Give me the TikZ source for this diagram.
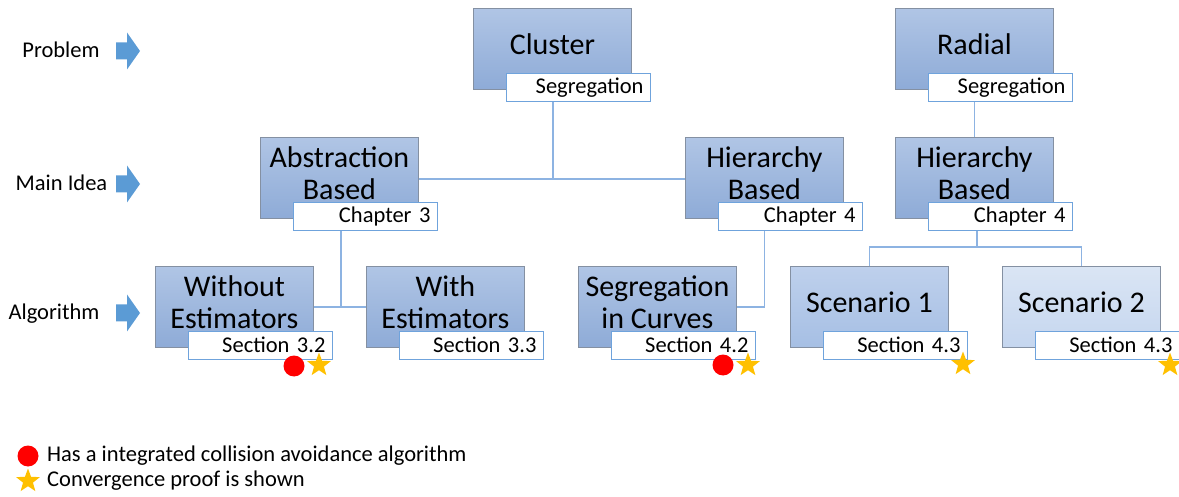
\documentclass[tikz,border=0pt]{standalone}
\usepackage{fontspec}
\setmainfont{Carlito}
\usetikzlibrary{shapes.geometric}

\definecolor{boxtop}{HTML}{B0C5E5}
\definecolor{boxbot}{HTML}{8EABD7}
\definecolor{midtop}{HTML}{BED0EC}
\definecolor{midbot}{HTML}{A6BFE4}
\definecolor{lighttop}{HTML}{DAE5F4}
\definecolor{lightbot}{HTML}{C5D6EF}
\definecolor{boxedge}{HTML}{8490A2}
\definecolor{tagedge}{HTML}{6FA3DC}
\definecolor{linkblue}{HTML}{8DB3E2}
\definecolor{arrowblue}{HTML}{5B9BD5}
\definecolor{stargold}{HTML}{FFC000}

\tikzset{
  box/.style={rectangle, anchor=north west, minimum width=158pt, minimum height=81pt,
    inner sep=0pt, draw=boxedge, line width=0.8pt, top color=boxtop, bottom color=boxbot},
  midbox/.style={box, top color=midtop, bottom color=midbot},
  lightbox/.style={box, top color=lighttop, bottom color=lightbot},
  boxtext/.style={font=\fontsize{30}{32}\selectfont, align=center, yshift=5pt, inner sep=0pt},
  tag/.style={rectangle, anchor=north west, text width=130pt, align=right, inner xsep=7pt,
    inner ysep=0pt, minimum height=28pt, fill=white, draw=tagedge, line width=1pt,
    font=\fontsize{22.5}{24}\selectfont},
  conn/.style={draw=linkblue, line width=1.3pt},
  rowname/.style={font=\fontsize{22.5}{24}\selectfont, inner sep=0pt},
  blockarrow/.style={fill=arrowblue, draw=none},
  dot/.style={circle, fill=red, draw=none, minimum size=21pt, inner sep=0pt},
  proof/.style={star, star points=5, star point ratio=2.4, fill=stargold, draw=none,
    minimum size=25pt, inner sep=0pt},
  legendtext/.style={font=\fontsize{22.5}{24}\selectfont, anchor=west, inner sep=0pt}
}

% block arrow pointing right, tail at the given point
\newcommand{\rowpointer}[1]{%
  \fill[blockarrow] (#1) ++(0,-8.5) -- ++(11,0) -- ++(0,-10) -- ++(13,18.5)
    -- ++(-13,18.5) -- ++(0,-10) -- ++(-11,0) -- cycle;}

\begin{document}
\begin{tikzpicture}[x=1pt, y=-1pt]
\useasboundingbox (0,0) rectangle (1179,497);

% row names and their arrows
\node[rowname] (rproblem) at (61,50) {Problem};
\node[rowname] (ridea) at (61.5,183) {Main Idea};
\node[rowname] (ralgo) at (54,314) {Algorithm};
\coordinate (aproblem) at (116,51);
\coordinate (aidea) at (116,184);
\coordinate (aalgo) at (116,313);
\rowpointer{aproblem}
\rowpointer{aidea}
\rowpointer{aalgo}

% problems
\node[box, label={[boxtext]center:Cluster}] (cluster) at (473,8) {};
\node[tag] (segA) at ([xshift=33pt,yshift=17pt]cluster.south west) {Segregation};
\node[box, label={[boxtext]center:Radial}] (radial) at (895,8) {};
\node[tag] (segB) at ([xshift=33pt,yshift=17pt]radial.south west) {Segregation};

% main ideas
\node[box, label={[boxtext]center:{Abstraction\\Based}}] (abstr) at (260,137) {};
\node[tag] (chapA) at ([xshift=33pt,yshift=17pt]abstr.south west) {Chapter 3};
\node[box, label={[boxtext]center:{Hierarchy\\Based}}] (hierA) at (685,137) {};
\node[tag] (chapB) at ([xshift=33pt,yshift=17pt]hierA.south west) {Chapter 4};
\node[box, label={[boxtext]center:{Hierarchy\\Based}}] (hierB) at (895,137) {};
\node[tag] (chapC) at ([xshift=33pt,yshift=17pt]hierB.south west) {Chapter 4};

% algorithms
\node[box, label={[boxtext]center:{Without\\Estimators}}] (without) at (155,266) {};
\node[tag] (secA) at ([xshift=33pt,yshift=17pt]without.south west) {Section 3.2};
\node[box, label={[boxtext]center:{With\\Estimators}}] (with) at (366,266) {};
\node[tag] (secB) at ([xshift=33pt,yshift=17pt]with.south west) {Section 3.3};
\node[box, label={[boxtext]center:{Segregation\\in Curves}}] (curves) at (578,266) {};
\node[tag] (secC) at ([xshift=33pt,yshift=17pt]curves.south west) {Section 4.2};
\node[midbox, label={[boxtext]center:Scenario 1}] (scenA) at (790,266) {};
\node[tag] (secD) at ([xshift=33pt,yshift=17pt]scenA.south west) {Section 4.3};
\node[lightbox, label={[boxtext]center:Scenario 2}] (scenB) at (1002,266) {};
\node[tag] (secE) at ([xshift=33pt,yshift=17pt]scenB.south west) {Section 4.3};

% connectors
\coordinate (joinA) at (553,179);
\draw[conn] (segA.south -| joinA) -- (joinA);
\draw[conn] (abstr.east |- joinA) -- (hierA.west |- joinA);
\draw[conn] (segB.south -| radial.south) -- (hierB.north -| radial.south);
\coordinate (joinB) at (341,307);
\draw[conn] (chapA.south -| joinB) -- (joinB);
\draw[conn] (without.east) -- (with.west);
\draw[conn] (chapB.south -| hierA.south) |- (curves.east);
\coordinate (fork) at (977,247);
\draw[conn] (chapC.south -| fork) -- (fork);
\draw[conn] (scenA.north) |- (fork) -| (scenB.north);

% markers
\node[dot] (dotA) at (294,366) {};
\node[proof] (starA) at (319,365) {};
\node[dot] (dotB) at (723,365) {};
\node[proof] (starB) at (748,365) {};
\node[proof] (starC) at (963,364) {};
\node[proof] (starD) at (1170,365) {};

% legend
\node[dot] (ldot) at (28,456) {};
\node[legendtext] (ltextA) at (47,456) {Has a integrated collision avoidance algorithm};
\node[proof] (lstar) at (28,481) {};
\node[legendtext] (ltextB) at (47,481) {Convergence proof is shown};
\end{tikzpicture}
\end{document}
